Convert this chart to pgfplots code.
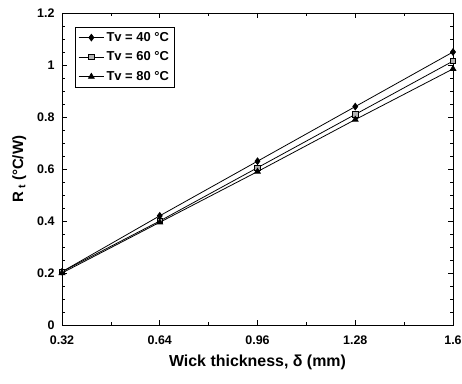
\documentclass[border=0pt]{standalone}
\usepackage{pgfplots}
\pgfplotsset{compat=1.18}
\usepackage{fontspec}
\setmainfont{Liberation Sans}
\begin{document}
\begin{tikzpicture}[x=1bp,y=1bp]
\useasboundingbox (0,0) rectangle (462,383);
\begin{axis}[
  at={(62bp,58bp)}, anchor=south west,
  width=391bp, height=312bp, scale only axis,
  xmin=0.32, xmax=1.6, ymin=0, ymax=1.2,
  xtick={0.32,0.64,0.96,1.28,1.6},
  xticklabels={0.32,0.64,0.96,1.28,1.6},
  ytick={0,0.2,0.4,0.6,0.8,1,1.2},
  yticklabels={0,0.2,0.4,0.6,0.8,1,1.2},
  minor x tick num=1, minor y tick num=3,
  tick align=inside, major tick length=5bp, minor tick length=3bp,
  tick style={black, line width=0.6pt},
  axis line style={line width=0.9pt},
  ticklabel style={font=\fontsize{12.5}{13}\selectfont\bfseries},
  xticklabel style={yshift=-7bp},
  yticklabel style={xshift=-4bp},
  xlabel={\fontsize{16}{18}\selectfont\bfseries Wick thickness, δ (mm)},
  ylabel={\fontsize{15}{17}\selectfont\bfseries R\,$_{\mathbf{t}}$ (°C/W)},
  xlabel style={yshift=-4bp},
  ylabel style={yshift=4bp},
  legend style={at={(0.033,0.955)}, anchor=north west, draw=black, line width=0.6pt,
    font=\fontsize{13}{14}\selectfont\bfseries, row sep=5bp, inner sep=3bp},
  legend cell align=left,
  legend image code/.code={\draw[mark repeat=2,mark phase=2] plot coordinates {(0cm,0cm) (0.45cm,0cm) (0.9cm,0cm)};},
]
\addplot[black, line width=0.8pt, mark=diamond*, mark size=3.3pt, mark options={fill=black}]
  coordinates {(0.32,0.205) (0.64,0.42) (0.96,0.63) (1.28,0.84) (1.6,1.05)};
\addlegendentry{Tv = 40 °C}
\addplot[black, line width=0.8pt, mark=square*, mark size=2.7pt, mark options={fill=gray!60}]
  coordinates {(0.32,0.205) (0.64,0.40) (0.96,0.605) (1.28,0.81) (1.6,1.015)};
\addlegendentry{Tv = 60 °C}
\addplot[black, line width=0.8pt, mark=triangle*, mark size=3.3pt, mark options={fill=black}]
  coordinates {(0.32,0.20) (0.64,0.395) (0.96,0.59) (1.28,0.79) (1.6,0.985)};
\addlegendentry{Tv = 80 °C}
\end{axis}
\end{tikzpicture}
\end{document}
